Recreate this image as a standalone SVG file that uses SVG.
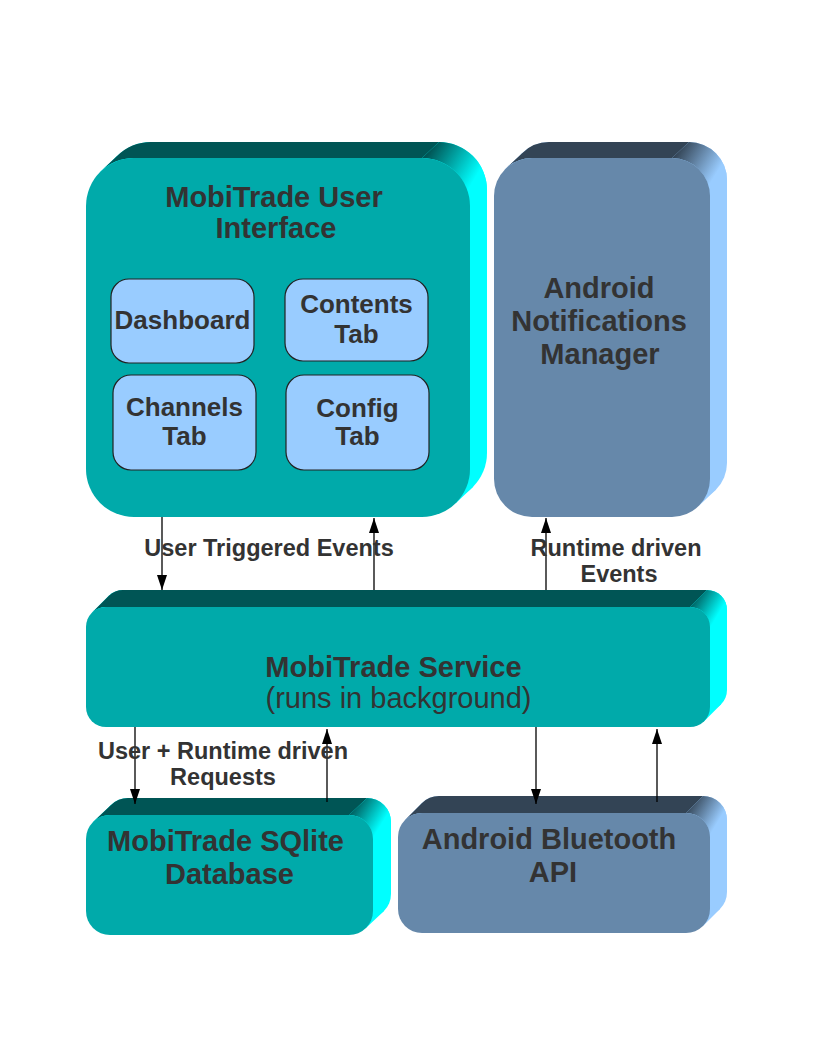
<svg xmlns="http://www.w3.org/2000/svg" width="816" height="1056" viewBox="0 0 816 1056">
<style>
.t{font-family:"Liberation Sans",Arial,sans-serif;fill:#333333;text-anchor:middle}
.b{font-weight:bold}
.title{font-size:29px}
.sub{font-size:26px}
.lbl{font-size:23.5px;font-weight:bold}
.reg{font-size:29px;font-weight:normal}
.tealF{fill:#00aaaa}
.tealT{fill:#005555}
.tealR{fill:#00ffff}
.blueF{fill:#6688aa}
.blueT{fill:#334455}
.blueR{fill:#99ccff}
.tab{fill:#99ccff;stroke:#222222;stroke-width:1.2}
.conn line{stroke:#000000;stroke-width:1.3;fill:none}
</style>
<defs>
<linearGradient id="gTeal" x1="0" y1="0" x2="1" y2="0.6">
<stop offset="0.15" stop-color="#005555"/>
<stop offset="0.85" stop-color="#00ffff"/>
</linearGradient>
<linearGradient id="gBlue" x1="0" y1="0" x2="1" y2="0.6">
<stop offset="0.15" stop-color="#334455"/>
<stop offset="0.85" stop-color="#99ccff"/>
</linearGradient>
<marker id="arr" viewBox="0 0 15 10" refX="15" refY="5" markerWidth="15" markerHeight="10" markerUnits="userSpaceOnUse" orient="auto">
<path d="M0,0 L15,5 L0,10 Z" fill="#000000"/>
</marker>
</defs>
<rect width="816" height="1056" fill="#ffffff"/>

<g id="ui">
<rect class="tealR" x="103" y="142" width="384" height="359" rx="48"/>
<polygon class="tealR" points="100.06,172.06 117.06,156.06 472.94,486.94 455.94,502.94"/>
<path class="tealT" d="M100.06,172.06 L117.06,156.06 A48 48 0 0 1 151,142 H439 L422,158 H134 A48 48 0 0 0 100.06,172.06 Z"/>
<path fill="url(#gTeal)" d="M422,158 L439,142 A48 48 0 0 1 487,190 L470,206 A48 48 0 0 0 422,158 Z"/>
<rect class="tealF" x="86" y="158" width="384" height="359" rx="48"/>
<text class="t b title" x="274" y="207">MobiTrade User</text>
<text class="t b title" x="276" y="238">Interface</text>
</g>

<g id="dashboard">
<rect class="tab" x="111" y="279" width="143" height="84" rx="18"/>
<text class="t b sub" x="182.5" y="329">Dashboard</text>
</g>
<g id="contents">
<rect class="tab" x="285" y="279" width="143" height="82" rx="18"/>
<text class="t b sub" x="356.5" y="313">Contents</text>
<text class="t b sub" x="356.5" y="343">Tab</text>
</g>
<g id="channels">
<rect class="tab" x="113" y="375" width="143" height="95" rx="18"/>
<text class="t b sub" x="184.5" y="416">Channels</text>
<text class="t b sub" x="184.5" y="445">Tab</text>
</g>
<g id="config">
<rect class="tab" x="286" y="375" width="143" height="95" rx="18"/>
<text class="t b sub" x="357.5" y="417">Config</text>
<text class="t b sub" x="357.5" y="445">Tab</text>
</g>

<g id="notifications">
<rect class="blueR" x="511" y="142" width="216" height="359" rx="38"/>
<polygon class="blueR" points="505.13,169.13 522.13,153.13 715.87,489.87 698.87,505.87"/>
<path class="blueT" d="M505.13,169.13 L522.13,153.13 A38 38 0 0 1 549,142 H689 L672,158 H532 A38 38 0 0 0 505.13,169.13 Z"/>
<path fill="url(#gBlue)" d="M672,158 L689,142 A38 38 0 0 1 727,180 L710,196 A38 38 0 0 0 672,158 Z"/>
<rect class="blueF" x="494" y="158" width="216" height="359" rx="38"/>
<text class="t b title" x="599" y="298">Android</text>
<text class="t b title" x="599" y="331">Notifications</text>
<text class="t b title" x="600" y="364">Manager</text>
</g>

<g id="service">
<rect class="tealR" x="103" y="590" width="624" height="120" rx="20"/>
<polygon class="tealR" points="91.86,612.86 108.86,595.86 721.14,704.14 704.14,721.14"/>
<path class="tealT" d="M91.86,612.86 L108.86,595.86 A20 20 0 0 1 123,590 H707 L690,607 H106 A20 20 0 0 0 91.86,612.86 Z"/>
<path fill="url(#gTeal)" d="M690,607 L707,590 A20 20 0 0 1 727,610 L710,627 A20 20 0 0 0 690,607 Z"/>
<rect class="tealF" x="86" y="607" width="624" height="120" rx="20"/>
<text class="t b title" x="393.5" y="677">MobiTrade Service</text>
<text class="t reg" x="398.5" y="708">(runs in background)</text>
</g>

<g id="database">
<rect class="tealR" x="104" y="798" width="287" height="120" rx="24"/>
<polygon class="tealR" points="93.03,822.03 111.03,805.03 383.97,910.97 365.97,927.97"/>
<path class="tealT" d="M93.03,822.03 L111.03,805.03 A24 24 0 0 1 128,798 H367 L349,815 H110 A24 24 0 0 0 93.03,822.03 Z"/>
<path fill="url(#gTeal)" d="M349,815 L367,798 A24 24 0 0 1 391,822 L373,839 A24 24 0 0 0 349,815 Z"/>
<rect class="tealF" x="86" y="815" width="287" height="120" rx="24"/>
<text class="t b title" x="225.5" y="851">MobiTrade SQlite</text>
<text class="t b title" x="229.5" y="884">Database</text>
</g>

<g id="bluetooth">
<rect class="blueR" x="415" y="796" width="312" height="120" rx="24"/>
<polygon class="blueR" points="405.03,820.03 422.03,803.03 719.97,908.97 702.97,925.97"/>
<path class="blueT" d="M405.03,820.03 L422.03,803.03 A24 24 0 0 1 439,796 H703 L686,813 H422 A24 24 0 0 0 405.03,820.03 Z"/>
<path fill="url(#gBlue)" d="M686,813 L703,796 A24 24 0 0 1 727,820 L710,837 A24 24 0 0 0 686,813 Z"/>
<rect class="blueF" x="398" y="813" width="312" height="120" rx="24"/>
<text class="t b title" x="549" y="849">Android Bluetooth</text>
<text class="t b title" x="553" y="882">API</text>
</g>

<g id="connectors" class="conn">
<line x1="162" y1="517" x2="162" y2="590" marker-end="url(#arr)"/>
<line x1="374" y1="590" x2="374" y2="518" marker-end="url(#arr)"/>
<line x1="546" y1="590" x2="546" y2="518" marker-end="url(#arr)"/>
<line x1="135" y1="727" x2="135" y2="804" marker-end="url(#arr)"/>
<line x1="327" y1="802" x2="327" y2="729" marker-end="url(#arr)"/>
<line x1="536" y1="727" x2="536" y2="804" marker-end="url(#arr)"/>
<line x1="657" y1="802" x2="657" y2="729" marker-end="url(#arr)"/>
</g>

<g id="labels">
<text class="t lbl" x="269" y="556">User Triggered Events</text>
<text class="t lbl" x="616" y="556">Runtime driven</text>
<text class="t lbl" x="619" y="582">Events</text>
<text class="t lbl" x="223" y="759">User + Runtime driven</text>
<text class="t lbl" x="223" y="785">Requests</text>
</g>
</svg>
